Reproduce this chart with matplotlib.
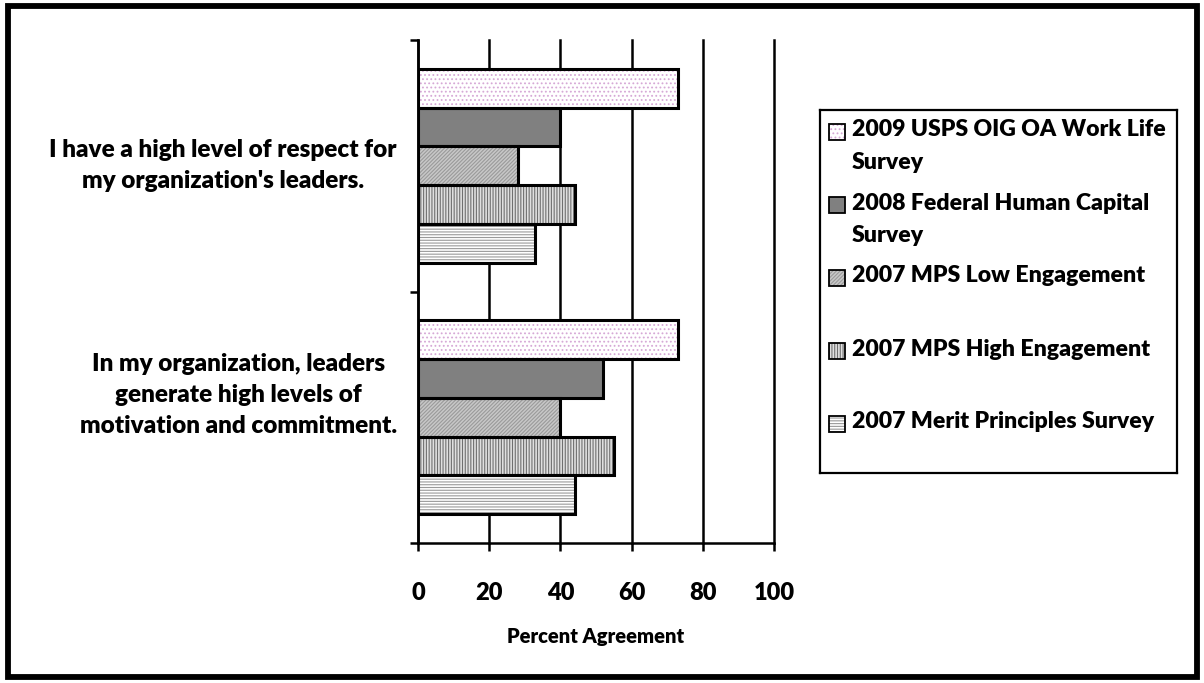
import matplotlib.pyplot as plt
from matplotlib.patches import Rectangle
from matplotlib.transforms import blended_transform_factory

plt.rcParams["font.family"] = ["Lato", "DejaVu Sans"]
plt.rcParams["font.weight"] = 800
plt.rcParams["hatch.linewidth"] = 0.8
W = 800  # heavy Lato, close to the bold used in the chart

questions = [
    "I have a high level of respect for\nmy organization's leaders.",
    "In my organization, leaders\ngenerate high levels of\nmotivation and commitment.",
]
surveys = [
    "2009 USPS OIG OA Work Life\nSurvey",
    "2008 Federal Human Capital\nSurvey",
    "2007 MPS Low Engagement",
    "2007 MPS High Engagement",
    "2007 Merit Principles Survey",
]
# percent agreement, one list per survey, in question order
usps_2009 = [73, 73]
fhcs_2008 = [40, 52]
mps_low_2007 = [28, 40]
mps_high_2007 = [44, 55]
merit_2007 = [33, 44]
values = [usps_2009, fhcs_2008, mps_low_2007, mps_high_2007, merit_2007]
x_ticks = [0, 20, 40, 60, 80, 100]

# face colour, hatch, hatch colour per survey
styles = [
    ("white", "....", "#d6a8d6"),
    ("#808080", None, "#808080"),
    ("#c8c8c8", "/////////", "#9a9a9a"),
    ("#e0e0e0", "||||||", "#6f6f6f"),
    ("white", "------", "#9a9a9a"),
]

fig = plt.figure(figsize=(12.04, 6.83), dpi=100)
fig.patches.append(Rectangle((7.5 / 1204, 6 / 683), 1189 / 1204, 671 / 683,
                             transform=fig.transFigure, fill=False,
                             edgecolor="black", linewidth=4.2))

ax = fig.add_axes([418 / 1204, 1 - 543 / 683, 356 / 1204, 503 / 683])
bar_h = 0.154
for i, (vals, (fc, hatch, hc)) in enumerate(zip(values, styles)):
    ys = [g + 0.5 + (i - 2) * bar_h for g in range(len(questions))]
    ax.barh(ys, vals, height=bar_h, color=fc, hatch=hatch, edgecolor=hc,
            linewidth=0, zorder=3)
    ax.barh(ys, vals, height=bar_h, fill=False, edgecolor="black",
            linewidth=2.2, zorder=4)

ax.set_xlim(0, 100)
ax.set_ylim(2, 0)
ax.set_xticks(x_ticks)
ax.set_xticklabels([str(t) for t in x_ticks], fontsize=17, fontweight=W)
ax.set_yticks([0, 1, 2])
ax.set_yticklabels([])
ax.tick_params(axis="both", direction="out", length=6, width=1.8)
ax.tick_params(axis="x", pad=22)
ax.grid(axis="x", color="black", linewidth=1.8, zorder=1)
for gl in ax.get_xgridlines():
    gl.set_clip_on(False)
for side in ("top", "right"):
    ax.spines[side].set_visible(False)
for side in ("left", "bottom"):
    ax.spines[side].set_linewidth(1.8)
ax.set_xlabel("Percent Agreement", fontsize=14.5, fontweight=W, labelpad=17)

trans = blended_transform_factory(ax.transAxes, ax.transData)
for q, y in zip(questions, [0.5, 1.41]):
    ax.text(-0.06, y, q, transform=trans, ha="right", va="center",
            multialignment="center", fontsize=17.5, fontweight=W,
            linespacing=1.5)

# legend box drawn in its own pixel-like frame
lax = fig.add_axes([820 / 1204, 1 - 473 / 683, 357 / 1204, 363 / 683])
lax.set_xlim(0, 357)
lax.set_ylim(363, 0)
lax.set_xticks([])
lax.set_yticks([])
for s in lax.spines.values():
    s.set_linewidth(1.6)
for i, (label, (fc, hatch, hc)) in enumerate(zip(surveys, styles)):
    yc = 22 + 73 * i
    lax.add_patch(Rectangle((9, yc - 8), 16, 16, facecolor=fc, hatch=hatch,
                            edgecolor=hc, linewidth=0))
    lax.add_patch(Rectangle((9, yc - 8), 16, 16, fill=False,
                            edgecolor="black", linewidth=1.3))
    lax.text(32, yc - 12.5, label, ha="left", va="top", fontsize=16.6,
             fontweight=W, linespacing=1.68)

fig.savefig("out.png", dpi=100)
